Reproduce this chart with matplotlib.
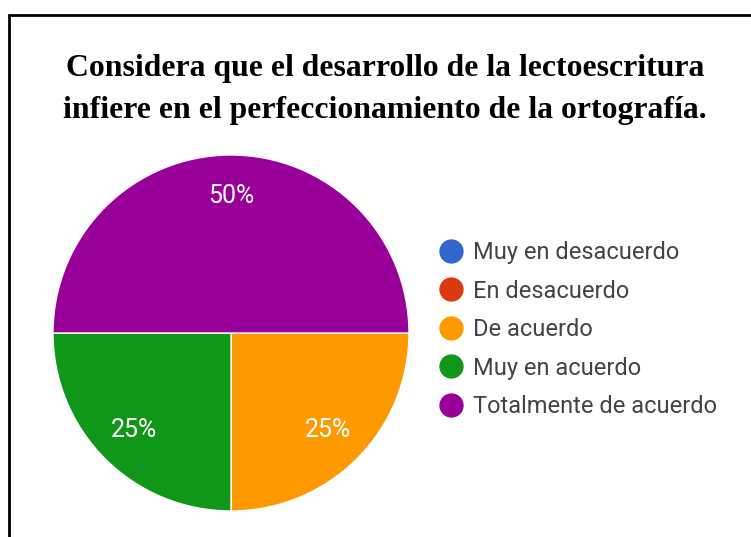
import matplotlib
matplotlib.use("Agg")
import matplotlib.pyplot as plt
from matplotlib.lines import Line2D
from matplotlib.patches import Rectangle

title = "Considera que el desarrollo de la lectoescritura\ninfiere en el perfeccionamiento de la ortografía."
categories = ["Muy en desacuerdo", "En desacuerdo", "De acuerdo", "Muy en acuerdo", "Totalmente de acuerdo"]
values = [0, 0, 25, 25, 50]
colors = ["#3366cc", "#dc3912", "#ff9900", "#109618", "#990099"]

W, H = 751, 537
fig = plt.figure(figsize=(W / 100, H / 100), dpi=100)

# frame (open on right and bottom, as in the screenshot)
fig.patches.append(Rectangle((9 / W, -0.1), 1.2, (H - 15) / H + 0.1, transform=fig.transFigure,
                             fill=False, edgecolor="black", linewidth=2))

fig.text(385 / W, 1 - 89.5 / H, title, ha="center", va="center", family="Liberation Serif",
         fontweight="bold", fontsize=22.9, linespacing=1.62)

ax = fig.add_axes([53 / W, 1 - 511 / H, 356 / W, 356 / H])
nz = [(v, c) for v, c in zip(values, colors) if v > 0]
ax.pie([v for v, _ in nz], colors=[c for _, c in nz], startangle=0, counterclock=False,
       radius=1, autopct="%1.0f%%", pctdistance=0.77,
       wedgeprops=dict(edgecolor="white", linewidth=1),
       textprops=dict(color="white", fontsize=18, family="Roboto"))
ax.set_xlim(-1, 1)
ax.set_ylim(-1, 1)
ax.set_aspect("equal")

handles = [Line2D([], [], marker="o", linestyle="", markersize=16.5, markerfacecolor=c,
                  markeredgecolor=c) for c in colors]
fig.legend(handles, categories, loc="upper left", bbox_to_anchor=(439 / W, 1 - 241 / H),
           frameon=False, prop=dict(family="Roboto", size=17), labelcolor="#444444",
           labelspacing=0.66, handletextpad=0.45, handlelength=1.0, borderaxespad=0, borderpad=0)

fig.savefig("out.png", dpi=100)
